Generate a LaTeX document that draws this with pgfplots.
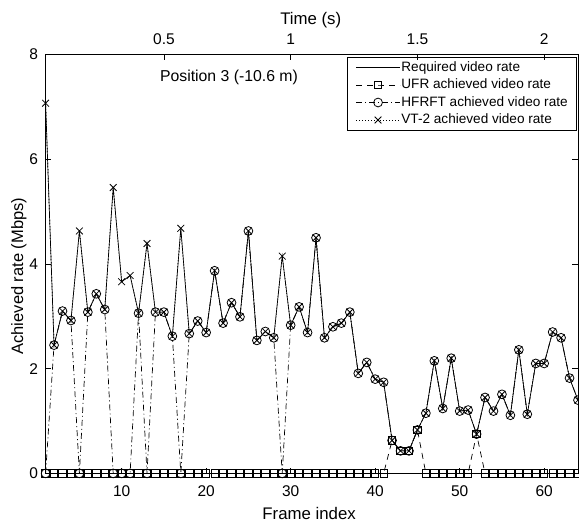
\documentclass[border=0pt]{standalone}
\usepackage{fontspec}
\setmainfont{Liberation Sans}
\usepackage{pgfplots}
\usepackage{pgfplotstable}
\pgfplotsset{compat=1.18}

% frame, required rate, UFR achieved, HFRFT achieved (Mbps)
\pgfplotstableread{
f req ufr hfrft
1 7.07 0 0
2 2.45 0 2.45
3 3.10 0 3.10
4 2.92 0 2.92
5 4.63 0 0
6 3.08 0 3.08
7 3.43 0 3.43
8 3.13 0 3.13
9 5.46 0 0
10 3.66 0 0
11 3.78 0 0
12 3.06 0 3.06
13 4.39 0 0
14 3.08 0 3.08
15 3.08 0 3.08
16 2.62 0 2.62
17 4.68 0 0
18 2.67 0 2.67
19 2.91 0 2.91
20 2.69 0 2.69
21 3.87 0 3.87
22 2.87 0 2.87
23 3.26 0 3.26
24 2.99 0 2.99
25 4.63 0 4.63
26 2.54 0 2.54
27 2.71 0 2.71
28 2.59 0 2.59
29 4.15 0 0
30 2.83 0 2.83
31 3.18 0 3.18
32 2.69 0 2.69
33 4.50 0 4.50
34 2.59 0 2.59
35 2.80 0 2.80
36 2.87 0 2.87
37 3.08 0 3.08
38 1.91 0 1.91
39 2.12 0 2.12
40 1.80 0 1.80
41 1.74 0 1.74
42 0.63 0.63 0.63
43 0.43 0.43 0.43
44 0.43 0.43 0.43
45 0.83 0.83 0.83
46 1.15 0 1.15
47 2.15 0 2.15
48 1.24 0 1.24
49 2.20 0 2.20
50 1.19 0 1.19
51 1.21 0 1.21
52 0.75 0.75 0.75
53 1.45 0 1.45
54 1.19 0 1.19
55 1.51 0 1.51
56 1.11 0 1.11
57 2.36 0 2.36
58 1.13 0 1.13
59 2.10 0 2.10
60 2.10 0 2.10
61 2.70 0 2.70
62 2.59 0 2.59
63 1.82 0 1.82
64 1.40 0 1.40
}\rates

\begin{document}
\begin{tikzpicture}
\pgfplotsset{
  every axis/.append style={
    scale only axis, width=532.4bp, height=418.9bp,
    at={(0,0)}, anchor=south west,
    axis line style={line width=0.7bp},
    every tick/.style={black, line width=0.7bp},
    major tick length=5.5bp,
    tick align=inside,
    tick label style={font=\fontsize{15.5bp}{18bp}\selectfont},
    label style={font=\fontsize{16.8bp}{19bp}\selectfont},
    /pgf/number format/assume math mode=true,
  },
}
\begin{axis}[
  xmin=1, xmax=64, ymin=0, ymax=8,
  xtick={10,20,...,60}, ytick={0,2,...,8},
  xtick pos=left, ytick pos=both, yticklabel pos=left,
  xticklabel style={anchor=base, yshift=-23.3bp},
  yticklabel style={anchor=east, inner sep=0pt, xshift=-7.5bp},
  xlabel={Frame index},
  ylabel={Achieved rate (Mbps)},
  xlabel style={at={(rel axis cs:0.495,-0.1089)}, anchor=base},
  ylabel style={at={(rel axis cs:-0.042,0.471)}, anchor=base,
    font=\fontsize{16.5bp}{19bp}\selectfont},
  legend image code/.code={
    \draw[mark repeat=2,mark phase=2,#1] plot coordinates {(0bp,0bp) (22bp,0bp) (44bp,0bp)};
  },
  legend style={at={(1,1)}, anchor=north east, xshift=-1bp, yshift=-2.2bp,
    draw=black, line width=0.6bp, fill=white,
    font=\fontsize{13.6bp}{16bp}\selectfont,
    inner xsep=8bp, inner ysep=3bp, row sep=2.5bp,
    nodes={inner sep=1bp, text height=10bp, text depth=3bp},
    cells={anchor=west}},
]
\addplot[black, line width=0.7bp] table[x=f, y=req] {\rates};
\addplot[black, line width=0.7bp, dash pattern=on 6bp off 5bp,
  mark=square, mark size=3.7bp, mark options={solid, line width=0.8bp}] table[x=f, y=ufr] {\rates};
\addplot[black, line width=0.7bp, dash pattern=on 6bp off 3bp on 1bp off 3bp,
  mark=o, mark size=4.4bp, mark options={solid, line width=0.8bp}] table[x=f, y=hfrft] {\rates};
\addplot[black, line width=0.7bp, dash pattern=on 1bp off 2bp,
  mark=x, mark size=4.8bp, mark options={solid, line width=0.8bp}] table[x=f, y=req] {\rates};
\legend{Required video rate, UFR achieved video rate, HFRFT achieved video rate, VT-2 achieved video rate}
\node[font=\fontsize{15.8bp}{18bp}\selectfont] at (axis cs:22.7,7.56) {Position 3 (-10.6 m)};
\end{axis}
\begin{axis}[
  xmin=0.033333, xmax=2.133333, ymin=0, ymax=1,
  axis x line*=top, hide y axis,
  xtick={0.5,1,1.5,2},
  xticklabel style={anchor=base, yshift=10bp},
  xlabel={Time (s)},
  xlabel style={at={(rel axis cs:0.498,1.0716)}, anchor=base},
]
\end{axis}
\pgfresetboundingbox
\path[use as bounding box] (-45.6bp,-47.6bp) rectangle (533.4bp,473.4bp);
\end{tikzpicture}
\end{document}
